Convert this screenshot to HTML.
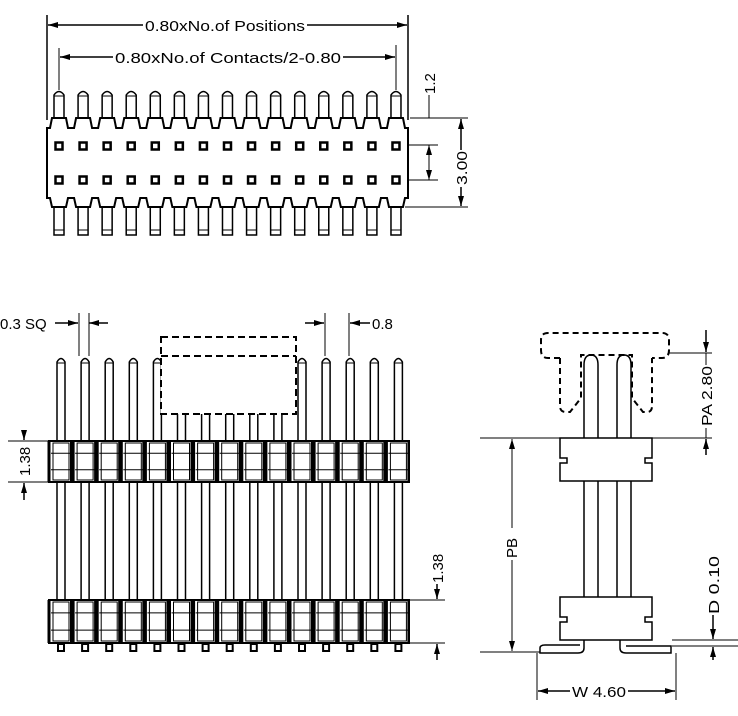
<!DOCTYPE html>
<html><head><meta charset="utf-8"><style>
html,body{margin:0;padding:0;background:#fff}
svg{display:block}
text{font-family:"Liberation Sans",sans-serif;font-size:15px;fill:#000}
</style></head><body>
<svg id="s" width="738" height="716" viewBox="0 0 738 716" xmlns="http://www.w3.org/2000/svg" stroke="#000" fill="none" stroke-width="1.5">
<defs><marker id="a" markerWidth="10" markerHeight="6" refX="10" refY="3" orient="auto-start-reverse" markerUnits="userSpaceOnUse"><path d="M0,0 L10,3 L0,6 z" fill="#000" stroke="none"/></marker></defs>
<line x1="47" y1="15" x2="47" y2="120"/><line x1="408" y1="15" x2="408" y2="120"/>
<line x1="48" y1="25" x2="143" y2="25" marker-start="url(#a)"/><line x1="307" y1="25" x2="407" y2="25" marker-end="url(#a)"/>
<text x="145" y="31" stroke="none" textLength="160" lengthAdjust="spacingAndGlyphs">0.80xNo.of Positions</text>
<line x1="59" y1="48" x2="59" y2="90" stroke-width="1"/><line x1="396" y1="45" x2="396" y2="90" stroke-width="1"/>
<line x1="60" y1="57" x2="113" y2="57" marker-start="url(#a)"/><line x1="343" y1="57" x2="395" y2="57" marker-end="url(#a)"/>
<text x="115" y="63" stroke="none" textLength="226" lengthAdjust="spacingAndGlyphs">0.80xNo.of Contacts/2-0.80</text>
<line x1="410" y1="118" x2="468" y2="118" stroke-width="1"/><line x1="398" y1="145" x2="438" y2="145" stroke-width="1"/>
<line x1="398" y1="180" x2="438" y2="180" stroke-width="1"/><line x1="405" y1="207" x2="468" y2="207" stroke-width="1"/>
<line x1="429" y1="95" x2="429" y2="118" stroke-width="1"/><line x1="429" y1="145" x2="429" y2="180" stroke-width="1" marker-start="url(#a)" marker-end="url(#a)"/>
<text transform="translate(435,94) rotate(-90)" stroke="none">1.2</text>
<line x1="461" y1="119" x2="461" y2="150" marker-start="url(#a)"/><line x1="461" y1="187" x2="461" y2="206" marker-end="url(#a)"/>
<text transform="translate(467,185) rotate(-90)" stroke="none" textLength="34" lengthAdjust="spacingAndGlyphs">3.00</text>
<g id="topv"></g>
<text x="0" y="329" stroke="none">0.3 SQ</text>
<line x1="55" y1="323" x2="78" y2="323" marker-end="url(#a)"/><line x1="89" y1="323" x2="108" y2="323" marker-start="url(#a)"/>
<line x1="79" y1="313" x2="79" y2="356" stroke-width="1"/><line x1="89" y1="313" x2="89" y2="356" stroke-width="1"/>
<line x1="305" y1="323" x2="324" y2="323" marker-end="url(#a)"/><line x1="350" y1="323" x2="370" y2="323" marker-start="url(#a)"/>
<line x1="325" y1="313" x2="325" y2="356" stroke-width="1"/><line x1="349" y1="313" x2="349" y2="356" stroke-width="1"/>
<text x="372" y="329" stroke="none">0.8</text>
<line x1="8" y1="441" x2="48" y2="441" stroke-width="1"/><line x1="8" y1="482" x2="48" y2="482" stroke-width="1"/>
<line x1="24" y1="430" x2="24" y2="440" marker-end="url(#a)"/><line x1="24" y1="483" x2="24" y2="500" marker-start="url(#a)"/>
<text transform="translate(30,476) rotate(-90)" stroke="none">1.38</text>
<line x1="410" y1="600" x2="445" y2="600" stroke-width="1"/><line x1="410" y1="643" x2="445" y2="643" stroke-width="1"/>
<line x1="437" y1="584" x2="437" y2="599" marker-end="url(#a)"/><line x1="437" y1="644" x2="437" y2="660" marker-start="url(#a)"/>
<text transform="translate(443,583) rotate(-90)" stroke="none">1.38</text>
<g id="frontv"></g>
<rect x="161" y="337" width="135" height="77" stroke-dasharray="7,4" fill="#fff" stroke-width="2"/>
<line x1="161" y1="356" x2="296" y2="356" stroke-dasharray="7,4" stroke-width="2"/>
<path d="M584,438 L584,365 Q584,355 591,355 Q598,355 598,365 L598,438 M617,438 L617,365 Q617,355 624,355 Q631,355 631,365 L631,438"/>
<path d="M560,358 L548,358 Q541,358 541,350 L541,340 Q541,333 548,333 L662,333 Q669,333 669,340 L669,350 Q669,358 662,358 L652,358 M560,358 L560,406 Q560,412 566,412 L570,412 L581,398 L581,355 L632,355 L632,398 L643,412 L647,412 Q652,412 652,406 L652,358" stroke-dasharray="6,4" stroke-width="2"/>
<path d="M584,481 L584,597 M598,481 L598,597 M617,481 L617,597 M631,481 L631,597"/>
<path d="M560,438 L652,438 L652,458 L645,458 L645,463 L652,463 L652,481 L560,481 L560,463 L567,463 L567,458 L560,458 Z" fill="#fff"/>
<path d="M560,597 L652,597 L652,617 L645,617 L645,622 L652,622 L652,640 L560,640 L560,622 L567,622 L567,617 L560,617 Z" fill="#fff"/>
<path d="M584,640 L584,648 Q584,653 578,653 L540,653 L540,648 Q540,645 545,645 L580,645 M620,640 L620,648 Q620,653 626,653 L671,653 L671,646 L626,646"/>
<line x1="480" y1="438" x2="560" y2="438" stroke-width="1"/><line x1="652" y1="438" x2="712" y2="438" stroke-width="1"/>
<line x1="669" y1="353" x2="712" y2="353" stroke-width="1"/>
<line x1="706" y1="330" x2="706" y2="352" marker-end="url(#a)"/><line x1="706" y1="439" x2="706" y2="455" marker-start="url(#a)"/>
<line x1="706" y1="353" x2="706" y2="365" stroke-width="1"/><line x1="706" y1="428" x2="706" y2="438" stroke-width="1"/>
<text transform="translate(712,426) rotate(-90)" stroke="none" textLength="60" lengthAdjust="spacingAndGlyphs">PA 2.80</text>
<line x1="480" y1="652" x2="540" y2="652" stroke-width="1"/><line x1="672" y1="640" x2="738" y2="640" stroke-width="1"/><line x1="672" y1="646" x2="738" y2="646" stroke-width="1"/>
<line x1="512" y1="439" x2="512" y2="651" stroke-width="1" marker-start="url(#a)" marker-end="url(#a)"/>
<rect x="505" y="528" width="14" height="32" fill="#fff" stroke="none"/>
<text transform="translate(517,558) rotate(-90)" stroke="none">PB</text>
<line x1="713" y1="615" x2="713" y2="639" marker-end="url(#a)"/><line x1="713" y1="647" x2="713" y2="660" marker-start="url(#a)"/>
<text transform="translate(719,614) rotate(-90)" stroke="none" textLength="58" lengthAdjust="spacingAndGlyphs">D 0.10</text>
<line x1="537" y1="653" x2="537" y2="700" stroke-width="1"/><line x1="676" y1="653" x2="676" y2="700" stroke-width="1"/>
<line x1="538" y1="691" x2="570" y2="691" marker-start="url(#a)"/><line x1="628" y1="691" x2="675" y2="691" marker-end="url(#a)"/>
<text x="572" y="697" stroke="none" textLength="54" lengthAdjust="spacingAndGlyphs">W 4.60</text>
</svg>
<script>
(function(){
var NS="http://www.w3.org/2000/svg";
function el(p,t,a){var e=document.createElementNS(NS,t);for(var k in a)e.setAttribute(k,a[k]);p.appendChild(e);return e;}
var tv=document.getElementById("topv"),fr=document.getElementById("frontv");
var P=24.07,i,c;
var d="M47,128 ";
for(i=0;i<15;i++){c=59+i*P;d+="L"+(c-9)+",128 L"+(c-7)+",118 L"+(c+7)+",118 L"+(c+9)+",128 ";}
d+="L408,128 L408,198 ";
for(i=14;i>=0;i--){c=59+i*P;d+="L"+(c+9)+",198 L"+(c+7)+",207 L"+(c-7)+",207 L"+(c-9)+",198 ";}
d+="L47,198 Z";
el(tv,"path",{d:d,fill:"#fff","stroke-width":2});
for(i=0;i<15;i++){c=59+i*P;
 el(tv,"path",{d:"M"+(c-5)+",118 L"+(c-5)+",95 Q"+c+",88 "+(c+5)+",95 L"+(c+5)+",118"});
 el(tv,"line",{x1:c-5,y1:96,x2:c+5,y2:96,"stroke-width":1});
 el(tv,"path",{d:"M"+(c-5)+",207 L"+(c-5)+",235 L"+(c+5)+",235 L"+(c+5)+",207"});
 el(tv,"line",{x1:c-5,y1:230,x2:c+5,y2:230,"stroke-width":1});
 el(tv,"rect",{x:c-3.5,y:142.5,width:7,height:7,"stroke-width":2.5});
 el(tv,"rect",{x:c-3.5,y:176.5,width:7,height:7,"stroke-width":2.5});
}
var Pf=24.1;
for(i=0;i<15;i++){c=61+i*Pf;
 el(fr,"path",{d:"M"+(c-4)+",441 L"+(c-4)+",362 Q"+c+",355 "+(c+4)+",362 L"+(c+4)+",441"});
 el(fr,"line",{x1:c-4,y1:363,x2:c+4,y2:363,"stroke-width":1});
 el(fr,"line",{x1:c-4,y1:482,x2:c-4,y2:600});el(fr,"line",{x1:c+4,y1:482,x2:c+4,y2:600});
 el(fr,"rect",{x:c-3,y:644,width:6,height:7,"stroke-width":2});
}
[[441,482],[600,643]].forEach(function(b){
 el(fr,"rect",{x:49,y:b[0],width:360,height:b[1]-b[0],fill:"#fff","stroke-width":2});
 var h=b[1]-b[0],j,cc;
 for(j=0;j<15;j++){cc=61+j*Pf;
  el(fr,"line",{x1:cc-12,y1:b[0],x2:cc-12,y2:b[1],"stroke-width":3});
  el(fr,"rect",{x:cc-8,y:b[0]+2,width:16,height:h-4,"stroke-width":1});
  el(fr,"line",{x1:cc-10,y1:b[0]+h*0.3,x2:cc+10,y2:b[0]+h*0.3,"stroke-width":1});
  el(fr,"line",{x1:cc-10,y1:b[0]+h*0.7,x2:cc+10,y2:b[0]+h*0.7,"stroke-width":1});
  el(fr,"line",{x1:cc+10,y1:b[0],x2:cc+10,y2:b[1],"stroke-width":2});
 }
});
})();
</script>
</body></html>
